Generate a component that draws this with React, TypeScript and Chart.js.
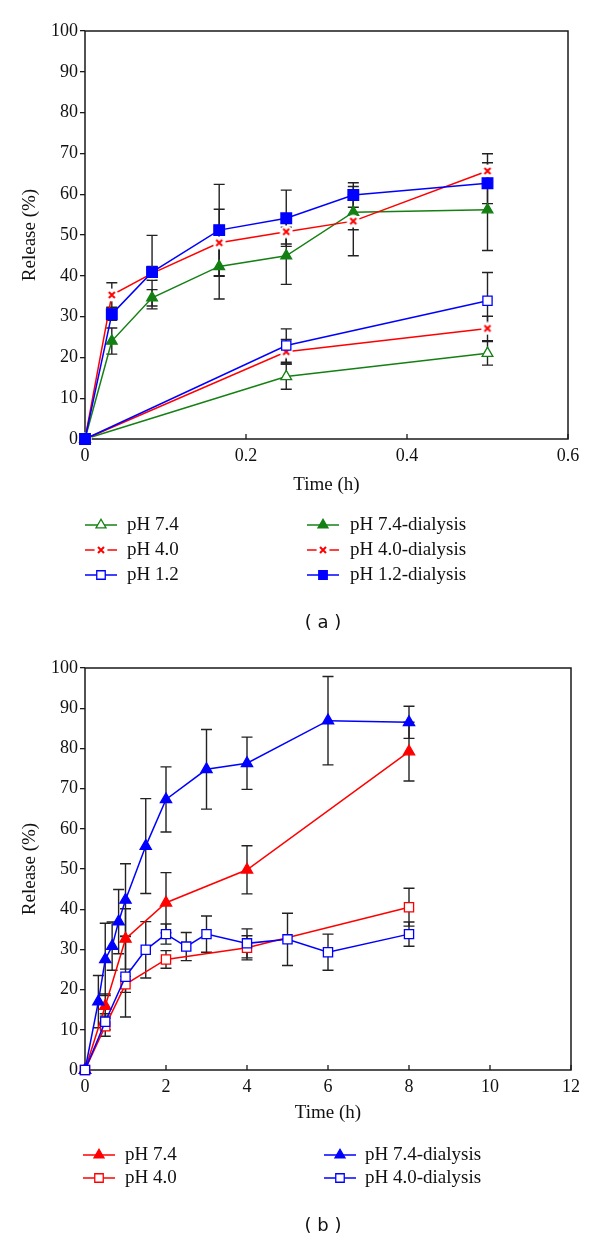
import React, { useEffect, useRef } from 'react';
import { Chart, registerables } from 'chart.js';

Chart.register(...registerables);

// ---------- Chart (a) data ----------
const aTimeShort = [0, 0.25, 0.5];
const aTimeDialysis = [0, 0.0333, 0.0833, 0.1667, 0.25, 0.3333, 0.5];

const aPH74 = [0, 15.3, 21.0];
const aPH74Err = [0, 3.1, 2.9];
const aPH40 = [0, 21.4, 27.1];
const aPH40Err = [0, 3.0, 3.0];
const aPH12 = [0, 22.9, 33.9];
const aPH12Err = [0, 4.1, 6.9];

const aPH74D = [0, 24.0, 34.6, 42.3, 44.9, 55.6, 56.2];
const aPH74DErr = [0, 3.2, 2.0, 8.0, 7.0, 4.3, 10.0];
const aPH40D = [0, 35.3, 40.6, 48.1, 50.8, 53.4, 65.7];
const aPH40DErr = [0, 3.0, 1.7, 8.2, 3.0, 8.5, 4.2];
const aPH12D = [0, 30.6, 40.9, 51.2, 54.1, 59.8, 62.7];
const aPH12DErr = [0, 1.5, 9.0, 11.2, 6.9, 3.0, 5.0];

const aXTicks = { min: 0, max: 0.6, step: 0.2 };

// ---------- Chart (b) data ----------
const bTimeShort = [0, 0.5, 1, 2, 4, 8];
const bTimeD74 = [0, 0.33, 0.5, 0.67, 0.83, 1, 1.5, 2, 3, 4, 6, 8];
const bTimeD40 = [0, 0.5, 1, 1.5, 2, 2.5, 3, 4, 5, 6, 8];

const bPH74 = [0, 15.9, 32.6, 41.6, 49.8, 79.2];
const bPH74Err = [0, 3.0, 7.5, 7.5, 6.0, 7.3];
const bPH40 = [0, 10.9, 21.3, 27.5, 30.4, 40.5];
const bPH40Err = [0, 2.5, 2.0, 2.2, 3.0, 4.7];

const bPH74D = [0, 17.0, 27.5, 30.8, 36.9, 42.3, 55.7, 67.3, 74.8, 76.3, 86.9, 86.5];
const bPH74DErr = [0, 6.5, 9.0, 6.0, 8.0, 9.0, 11.8, 8.1, 9.9, 6.5, 11.0, 4.0];
const bPH40D = [0, 12.0, 23.2, 29.9, 33.8, 30.7, 33.8, 31.5, 32.5, 29.3, 33.8];
const bPH40DErr = [0, 2.0, 10.0, 7.0, 2.5, 3.5, 4.5, 3.6, 6.5, 4.5, 3.0];

const bXTicks = { min: 0, max: 12, step: 2 };

const yTicks = { min: 0, max: 100, step: 10 };

const GREEN = 'rgb(20,128,20)';
const RED = 'rgb(255,0,0)';
const BLUE = 'rgb(0,0,255)';
const SERIF = "'Liberation Serif', 'Times New Roman', serif";

type Marker = 'triangle' | 'rect' | 'cross';
interface Series {
  label: string;
  x: number[];
  y: number[];
  err: number[];
  color: string;
  marker: Marker;
  filled: boolean;
  radius: number;
}

interface LegendItem {
  series: number;
  col: number;
  row: number;
}

interface Layout {
  width: number;
  height: number;
  padTop: number;
  padRight: number;
  padBottom: number;
  yTitlePad: number;
  xTitlePad: number;
  legendCols: { lineX: number; textX: number }[];
  legendRows: number[];
}

function makeCrossImage(): HTMLCanvasElement {
  const c = document.createElement('canvas');
  c.width = 14;
  c.height = 14;
  const ctx = c.getContext('2d')!;
  ctx.fillStyle = '#ffffff';
  ctx.beginPath();
  ctx.arc(7, 7, 6.5, 0, Math.PI * 2);
  ctx.fill();
  ctx.strokeStyle = RED;
  ctx.lineWidth = 2;
  ctx.beginPath();
  ctx.moveTo(4, 4);
  ctx.lineTo(10, 10);
  ctx.moveTo(10, 4);
  ctx.lineTo(4, 10);
  ctx.stroke();
  return c;
}

function drawMarker(
  ctx: CanvasRenderingContext2D,
  s: Series,
  x: number,
  y: number,
  r: number,
  cross: HTMLCanvasElement
) {
  ctx.save();
  ctx.lineWidth = 1.3;
  ctx.strokeStyle = s.color;
  ctx.fillStyle = s.filled ? s.color : '#ffffff';
  if (s.marker === 'cross') {
    ctx.drawImage(cross, x - 7, y - 7);
  } else if (s.marker === 'triangle') {
    const a = (2 * Math.PI) / 3;
    ctx.beginPath();
    ctx.moveTo(x, y - r);
    ctx.lineTo(x + Math.sin(a) * r, y - Math.cos(a) * r);
    ctx.lineTo(x + Math.sin(2 * a) * r, y - Math.cos(2 * a) * r);
    ctx.closePath();
    ctx.fill();
    ctx.stroke();
  } else {
    const h = r * Math.SQRT1_2;
    ctx.beginPath();
    ctx.rect(x - h, y - h, 2 * h, 2 * h);
    ctx.fill();
    ctx.stroke();
  }
  ctx.restore();
}

function buildChart(
  canvas: HTMLCanvasElement,
  series: Series[],
  legend: LegendItem[],
  xt: { min: number; max: number; step: number },
  layout: Layout,
  cross: HTMLCanvasElement
) {
  const frame = {
    id: 'frame',
    beforeDatasetsDraw(chart: any) {
      const { ctx, chartArea } = chart;
      ctx.save();
      ctx.strokeStyle = '#1a1a1a';
      ctx.lineWidth = 1.5;
      ctx.strokeRect(
        chartArea.left,
        chartArea.top,
        chartArea.right - chartArea.left,
        chartArea.bottom - chartArea.top
      );
      // inward x ticks
      const xs = chart.scales.x;
      ctx.lineWidth = 1.3;
      xs.ticks.forEach((t: any) => {
        const px = xs.getPixelForValue(t.value);
        ctx.beginPath();
        ctx.moveTo(px, chartArea.bottom);
        ctx.lineTo(px, chartArea.bottom - 5);
        ctx.stroke();
      });
      ctx.restore();
    },
  };

  const errorBars = {
    id: 'errorBars',
    beforeDatasetsDraw(chart: any) {
      const { ctx } = chart;
      const xs = chart.scales.x;
      const ys = chart.scales.y;
      ctx.save();
      ctx.strokeStyle = '#222222';
      ctx.lineWidth = 1.4;
      chart.data.datasets.forEach((ds: any) => {
        (ds.data as any[]).forEach((p: any, i: number) => {
          const e = ds.errors ? ds.errors[i] : 0;
          if (!e) return;
          const px = xs.getPixelForValue(p.x);
          const y1 = ys.getPixelForValue(p.y - e);
          const y2 = ys.getPixelForValue(p.y + e);
          ctx.beginPath();
          ctx.moveTo(px, y1);
          ctx.lineTo(px, y2);
          ctx.moveTo(px - 5.5, y1);
          ctx.lineTo(px + 5.5, y1);
          ctx.moveTo(px - 5.5, y2);
          ctx.lineTo(px + 5.5, y2);
          ctx.stroke();
        });
      });
      ctx.restore();
    },
  };

  const customLegend = {
    id: 'customLegend',
    afterDraw(chart: any) {
      const { ctx } = chart;
      ctx.save();
      legend.forEach((item) => {
        const s = series[item.series];
        const col = layout.legendCols[item.col];
        const y = layout.legendRows[item.row];
        ctx.strokeStyle = s.color;
        ctx.lineWidth = 1.5;
        ctx.beginPath();
        ctx.moveTo(col.lineX, y);
        ctx.lineTo(col.lineX + 32, y);
        ctx.stroke();
        drawMarker(ctx, s, col.lineX + 16, y, s.marker === 'rect' ? 6 : 5.8, cross);
        ctx.fillStyle = '#111111';
        ctx.font = `19px ${SERIF}`;
        ctx.textBaseline = 'middle';
        ctx.textAlign = 'left';
        ctx.fillText(s.label, col.textX, y);
      });
      ctx.restore();
    },
  };

  const datasets = series.map((s) => ({
    label: s.label,
    data: s.x.map((v, i) => ({ x: v, y: s.y[i] })),
    errors: s.err,
    borderColor: s.color,
    borderWidth: 1.5,
    backgroundColor: s.color,
    pointStyle: s.marker === 'cross' ? cross : s.marker,
    pointRadius: s.radius,
    pointHoverRadius: s.radius,
    pointBorderWidth: 1.3,
    pointBorderColor: s.color,
    pointBackgroundColor: s.filled ? s.color : '#ffffff',
    tension: 0,
    clip: false,
  }));

  return new Chart(canvas, {
    type: 'line',
    data: { datasets: datasets as any },
    options: {
      responsive: false,
      animation: false,
      events: [],
      layout: {
        padding: {
          left: 0,
          top: layout.padTop,
          right: layout.padRight,
          bottom: layout.padBottom,
        },
      },
      plugins: {
        legend: { display: false },
        tooltip: { enabled: false },
      },
      scales: {
        x: {
          type: 'linear',
          min: xt.min,
          max: xt.max,
          afterFit: (scale: any) => {
            scale.height = 60;
          },
          ticks: {
            stepSize: xt.step,
            color: '#111111',
            font: { family: SERIF, size: 18 },
            padding: 6,
            maxRotation: 0,
          },
          grid: { display: false, drawTicks: false },
          border: { display: false },
          title: {
            display: true,
            text: 'Time (h)',
            color: '#111111',
            font: { family: SERIF, size: 19 },
            padding: { top: 0, bottom: layout.xTitlePad },
          },
        },
        y: {
          type: 'linear',
          min: yTicks.min,
          max: yTicks.max,
          afterFit: (scale: any) => {
            scale.width = 85;
          },
          ticks: {
            stepSize: yTicks.step,
            color: '#111111',
            font: { family: SERIF, size: 18 },
            padding: 2,
          },
          grid: {
            drawOnChartArea: false,
            drawTicks: true,
            tickLength: 5,
            color: '#1a1a1a',
            lineWidth: 1.3,
          },
          border: { display: false },
          title: {
            display: true,
            text: 'Release (%)',
            color: '#111111',
            font: { family: SERIF, size: 19 },
            padding: { top: layout.yTitlePad, bottom: 0 },
          },
        },
      },
    },
    plugins: [frame, errorBars, customLegend],
  } as any);
}

export default function App() {
  const refA = useRef<HTMLCanvasElement>(null);
  const refB = useRef<HTMLCanvasElement>(null);

  useEffect(() => {
    const cross = makeCrossImage();

    const seriesA: Series[] = [
      { label: 'pH 1.2-dialysis', x: aTimeDialysis, y: aPH12D, err: aPH12DErr, color: BLUE, marker: 'rect', filled: true, radius: 7.5 },
      { label: 'pH 4.0-dialysis', x: aTimeDialysis, y: aPH40D, err: aPH40DErr, color: RED, marker: 'cross', filled: true, radius: 6 },
      { label: 'pH 7.4-dialysis', x: aTimeDialysis, y: aPH74D, err: aPH74DErr, color: GREEN, marker: 'triangle', filled: true, radius: 6.2 },
      { label: 'pH 1.2', x: aTimeShort, y: aPH12, err: aPH12Err, color: BLUE, marker: 'rect', filled: false, radius: 6.5 },
      { label: 'pH 4.0', x: aTimeShort, y: aPH40, err: aPH40Err, color: RED, marker: 'cross', filled: false, radius: 6 },
      { label: 'pH 7.4', x: aTimeShort, y: aPH74, err: aPH74Err, color: GREEN, marker: 'triangle', filled: false, radius: 6.2 },
    ];
    const legendA: LegendItem[] = [
      { series: 5, col: 0, row: 0 },
      { series: 4, col: 0, row: 1 },
      { series: 3, col: 0, row: 2 },
      { series: 2, col: 1, row: 0 },
      { series: 1, col: 1, row: 1 },
      { series: 0, col: 1, row: 2 },
    ];
    const layoutA: Layout = {
      width: 600,
      height: 650,
      padTop: 31,
      padRight: 32,
      padBottom: 151,
      yTitlePad: 19,
      xTitlePad: 3,
      legendCols: [
        { lineX: 85, textX: 127 },
        { lineX: 307, textX: 350 },
      ],
      legendRows: [525, 550, 575],
    };

    const seriesB: Series[] = [
      { label: 'pH 4.0-dialysis', x: bTimeD40, y: bPH40D, err: bPH40DErr, color: BLUE, marker: 'rect', filled: false, radius: 6.5 },
      { label: 'pH 7.4-dialysis', x: bTimeD74, y: bPH74D, err: bPH74DErr, color: BLUE, marker: 'triangle', filled: true, radius: 6.5 },
      { label: 'pH 4.0', x: bTimeShort, y: bPH40, err: bPH40Err, color: RED, marker: 'rect', filled: false, radius: 6.5 },
      { label: 'pH 7.4', x: bTimeShort, y: bPH74, err: bPH74Err, color: RED, marker: 'triangle', filled: true, radius: 6.5 },
    ];
    const legendB: LegendItem[] = [
      { series: 3, col: 0, row: 0 },
      { series: 2, col: 0, row: 1 },
      { series: 1, col: 1, row: 0 },
      { series: 0, col: 1, row: 1 },
    ];
    const layoutB: Layout = {
      width: 600,
      height: 591,
      padTop: 18,
      padRight: 29,
      padBottom: 111,
      yTitlePad: 19,
      xTitlePad: 6,
      legendCols: [
        { lineX: 83, textX: 125 },
        { lineX: 324, textX: 365 },
      ],
      legendRows: [505, 528],
    };

    const a = buildChart(refA.current!, seriesA, legendA, aXTicks, layoutA, cross);
    const b = buildChart(refB.current!, seriesB, legendB, bXTicks, layoutB, cross);
    return () => {
      a.destroy();
      b.destroy();
    };
  }, []);

  const caption: React.CSSProperties = {
    position: 'absolute',
    left: 223,
    width: 200,
    textAlign: 'center',
    fontFamily: "'DejaVu Sans', sans-serif",
    fontSize: 18,
    lineHeight: '22px',
    color: '#111',
  };

  return (
    <div
      style={{
        position: 'absolute',
        left: 0,
        top: 0,
        width: 600,
        height: 1241,
        background: '#ffffff',
        overflow: 'hidden',
      }}
    >
      <canvas ref={refA} width={600} height={650} style={{ position: 'absolute', left: 0, top: 0 }} />
      <canvas ref={refB} width={600} height={591} style={{ position: 'absolute', left: 0, top: 650 }} />
      <div style={{ ...caption, top: 611 }}>( a )</div>
      <div style={{ ...caption, top: 1214 }}>( b )</div>
    </div>
  );
}
